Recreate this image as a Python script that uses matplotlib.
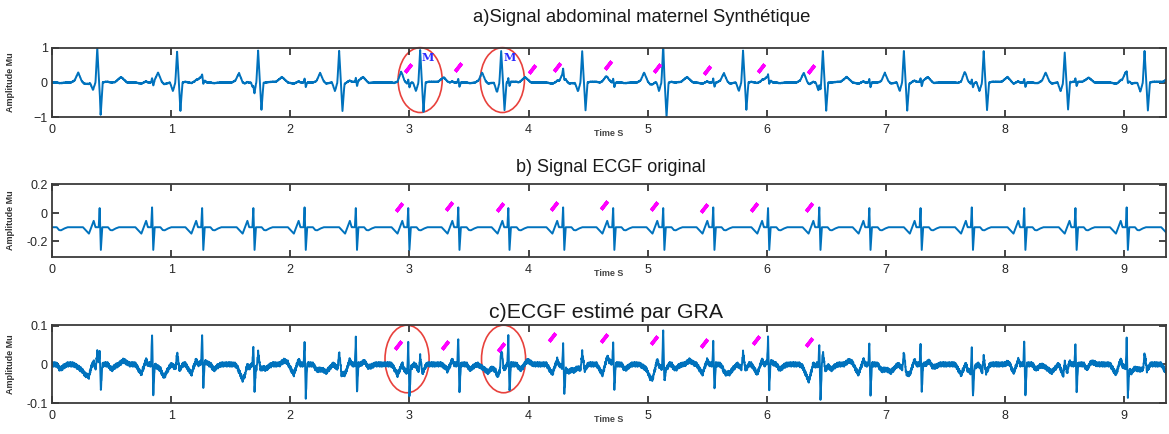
import matplotlib.pyplot as plt
import numpy as np
from matplotlib.patches import Ellipse

plt.rcParams['font.family'] = ['Liberation Sans', 'DejaVu Sans']

# beat times (s)
mat_times = [0.38, 1.05, 1.73, 2.41, 3.09, 3.77, 4.45, 5.13, 5.80, 6.47, 7.15, 7.82, 8.50, 9.17]
mat_r = [1.0, 0.9, 0.92, 0.92, 0.95, 0.9, 0.9, 1.0, 0.92, 0.92, 0.92, 0.92, 0.9, 0.92]
mat_s = [-0.85, -0.82, -0.8, -0.8, -0.85, -0.8, -0.8, -1.0, -0.8, -0.82, -0.8, -0.8, -0.8, -0.82]

fet_times = [-0.03, 0.40, 0.84, 1.26, 1.69, 2.12, 2.55, 2.99, 3.41, 3.83, 4.29, 4.71,
             5.13, 5.55, 6.01, 6.44, 6.86, 7.29, 7.72, 8.16, 8.59, 9.02, 9.45]
fet_r_b = [0.135, 0.135, 0.14, 0.135, 0.135, 0.14, 0.135, 0.135, 0.14, 0.135, 0.14, 0.135,
           0.135, 0.14, 0.135, 0.14, 0.135, 0.135, 0.14, 0.135, 0.135, 0.14, 0.135]
fet_s_b = [-0.16, -0.16, -0.16, -0.16, -0.16, -0.16, -0.16, -0.16, -0.16, -0.16, -0.16, -0.16,
           -0.16, -0.16, -0.16, -0.16, -0.16, -0.16, -0.16, -0.16, -0.16, -0.16, -0.16]
fet_r_c = [0.05, 0.05, 0.08, 0.07, 0.054, 0.057, 0.067, 0.075, 0.07, 0.07, 0.062, 0.054,
           0.057, 0.057, 0.062, 0.057, 0.057, 0.057, 0.062, 0.062, 0.057, 0.075, 0.06]
fet_s_c = [-0.06, -0.059, -0.082, -0.067, -0.067, -0.085, -0.075, -0.072, -0.075, -0.072, -0.067, -0.062,
           -0.054, -0.067, -0.072, -0.08, -0.075, -0.072, -0.072, -0.08, -0.075, -0.072, -0.07]

# beat shapes: offsets from the R peak (s) and amplitudes, R/S filled per beat
mat_off = [-0.22, -0.19, -0.16, -0.13, -0.11, -0.06, -0.035, -0.015, 0.0, 0.028, 0.045, 0.07, 0.15, 0.20, 0.25, 0.30]
mat_val = [0.0, 0.06, 0.29, 0.04, -0.03, 0.0, -0.25, 0.0, 'R', 'S', 0.0, 0.02, 0.02, 0.16, 0.0, 0.0]
fet_off = [-0.14, -0.09, -0.05, -0.035, -0.008, 0.0, 0.01, 0.022, 0.07, 0.09, 0.105, 0.13, 0.16]
fet_val_b = [0.0, -0.045, 0.045, 0.0, 0.0, 'R', 'S', 0.0, 0.0, -0.02, -0.022, -0.01, 0.0]
fet_val_c = [0.0, -0.025, 0.012, 0.0, 0.0, 'R', 'S', 0.0, 0.0, -0.01, -0.012, -0.005, 0.0]
res_off = [-0.2, -0.16, -0.11, -0.05, -0.012, 0.0, 0.02, 0.05, 0.18, 0.22, 0.27]
res_val = [0.0, -0.008, -0.02, 0.0, -0.01, 0.032, -0.015, 0.0, 0.0, 0.01, 0.0]

noise = [0.004, -0.002, 0.006, -0.005, 0.001, 0.005, -0.004, -0.006, 0.003, 0.002, -0.003, 0.006,
         -0.001, -0.005, 0.004, 0.0, -0.006, 0.005, 0.002, -0.004, 0.003, -0.002, 0.005, -0.005,
         0.001, 0.004, -0.003, -0.001, 0.006, -0.004, 0.002, -0.006, 0.003, 0.005, -0.002, -0.004, 0.001]
base_b = -0.1

# annotation marks
mark_a_t = [2.99, 3.41, 4.03, 4.24, 4.67, 5.08, 5.50, 5.95, 6.37]
mark_a_y = [0.42, 0.45, 0.38, 0.45, 0.5, 0.42, 0.35, 0.42, 0.38]
mark_b_t = [2.91, 3.33, 3.76, 4.21, 4.63, 5.05, 5.47, 5.89, 6.35]
mark_b_y = [0.04, 0.05, 0.04, 0.05, 0.055, 0.05, 0.035, 0.04, 0.04]
mark_c_t = [2.90, 3.30, 3.77, 4.20, 4.63, 5.05, 5.47, 5.91, 6.35]
mark_c_y = [0.05, 0.05, 0.045, 0.07, 0.068, 0.063, 0.055, 0.063, 0.058]

t = np.arange(0, 9.36, 0.002)


def beats(times, off, val, r, s):
    sig = np.zeros_like(t)
    for k, tb in enumerate(times):
        v = [r[k] if x == 'R' else s[k] if x == 'S' else x for x in val]
        sig += np.interp(t, tb + np.array(off), v, left=0, right=0)
    return sig


n = np.resize(np.array(noise), t.size)
fet_b = beats(fet_times, fet_off, fet_val_b, fet_r_b, fet_s_b)
sig_a = beats(mat_times, mat_off, mat_val, mat_r, mat_s) + 0.8 * fet_b + 1.5 * n
sig_b = base_b + fet_b
sig_c = (beats(fet_times, fet_off, fet_val_c, fet_r_c, fet_s_c)
         + beats(mat_times, res_off, res_val, [0.032] * 14, [-0.015] * 14) + n)

W, H = 1169, 434
fig = plt.figure(figsize=(W / 100, H / 100), dpi=100)
left, width = 52 / W, (1166 - 52) / W
pos = [(117, 69), (257, 73), (403, 78)]
axs = [fig.add_axes([left, 1 - b / H, width, h / H]) for b, h in pos]

blue = '#0072BD'
for ax, sig in zip(axs, [sig_a, sig_b, sig_c]):
    ax.plot(t, sig, color=blue, lw=1.4)
    ax.set_xlim(0, 9.35)
    ax.set_xticks(range(10))
    ax.tick_params(direction='in', top=True, right=True, length=5, width=1.2,
                   colors='#262626', labelsize=9, pad=3)
    ax.tick_params(axis='x', pad=5)
    for sp in ax.spines.values():
        sp.set_linewidth(1.3)
        sp.set_color('#3a3a3a')
    ax.set_ylabel('Amplitude Mu', fontsize=6.5, fontweight='bold', color='#333333')
    ax.yaxis.set_label_coords(-0.033, 0.5)
    ax.set_xlabel('Time S', fontsize=6.5, fontweight='bold', color='#444444', labelpad=-5)

axs[0].set_ylim(-1, 1)
axs[0].set_yticks([-1, 0, 1])
axs[1].set_ylim(-0.31, 0.205)
axs[1].set_yticks([-0.2, 0, 0.2], ['-0.2', '0', '0.2'])
axs[2].set_ylim(-0.1, 0.102)
axs[2].set_yticks([-0.1, 0, 0.1], ['-0.1', '0', '0.1'])

mk = dict(marker=(2, 2, -38), ls='none', color='#ff00ff', ms=7.5, mew=2.6)
axs[0].plot(mark_a_t, mark_a_y, **mk)
axs[1].plot(mark_b_t, mark_b_y, **mk)
axs[2].plot(mark_c_t, mark_c_y, **mk)

for tc in [3.09, 3.78]:
    axs[0].add_patch(Ellipse((tc, 0.07), 0.37, 1.88, fill=False, ec='#e8413c', lw=1.2, clip_on=False))
    axs[0].text(tc + 0.06, 0.72, 'M', color='#2b2bff', fontsize=8, family='DejaVu Serif',
                fontweight='bold', ha='center', va='center')
for tc in [2.98, 3.79]:
    axs[2].add_patch(Ellipse((tc, 0.014), 0.37, 0.175, fill=False, ec='#e8413c', lw=1.2, clip_on=False))

fig.text(642 / W, 1 - 18 / H, 'a)Signal abdominal maternel Synthétique', fontsize=13.3,
         ha='center', va='center', color='#1a1a1a')
fig.text(611 / W, 1 - 168 / H, 'b) Signal ECGF original', fontsize=13,
         ha='center', va='center', color='#1a1a1a')
fig.text(606 / W, 1 - 313 / H, 'c)ECGF estimé par GRA', fontsize=15.3,
         ha='center', va='center', color='#1a1a1a')

fig.savefig('out.png', dpi=100)
